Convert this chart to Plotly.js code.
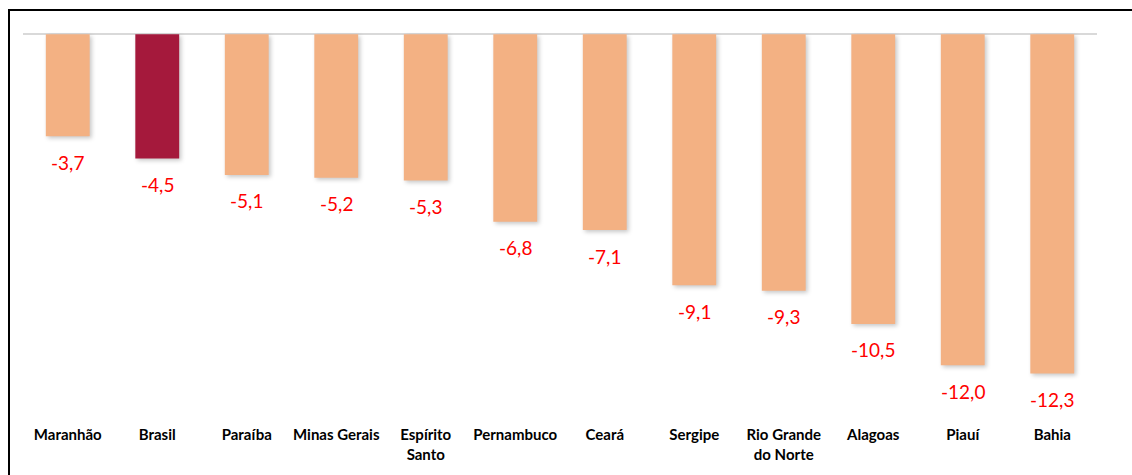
<!DOCTYPE html>
<html>
<head>
<meta charset="utf-8">
<script src="https://cdn.plot.ly/plotly-3.0.1.min.js"></script>
<style>
html,body{margin:0;padding:0;background:#fff;}
#wrap{position:relative;width:1132px;height:475px;}
#chart{width:1132px;height:475px;}
#frame{position:absolute;left:8px;top:9px;width:1130px;height:470px;border-left:2px solid #000;border-top:2px solid #000;pointer-events:none;}
#chart .bars .point path{filter:drop-shadow(2px 2px 2px rgba(0,0,0,0.22));}
</style>
</head>
<body>
<div id="wrap">
<div id="chart"></div>
<div id="frame"></div>
</div>
<script>
const categories = ["Maranhão","Brasil","Paraíba","Minas Gerais","Espírito Santo","Pernambuco","Ceará","Sergipe","Rio Grande do Norte","Alagoas","Piauí","Bahia"];
const tickLabels = ["Maranhão","Brasil","Paraíba","Minas Gerais","Espírito<br>Santo","Pernambuco","Ceará","Sergipe","Rio Grande<br>do Norte","Alagoas","Piauí","Bahia"];
const values = [-3.7,-4.5,-5.1,-5.2,-5.3,-6.8,-7.1,-9.1,-9.3,-10.5,-12.0,-12.3];
const highlight = "Brasil";

const colors = categories.map(c => c === highlight ? "#a5193c" : "#f3b183");

const trace = {
  type: "bar",
  x: categories,
  y: values,
  marker: {color: colors, line: {width: 0}},
  hoverinfo: "skip"
};

const annotations = categories.map((c, i) => ({
  x: c, y: values[i], xref: "x", yref: "y",
  text: values[i].toFixed(1).replace(".", ","),
  showarrow: false, yanchor: "middle", yshift: -26,
  font: {family: "Lato, 'Open Sans', sans-serif", size: 19, color: "#ff0000"}
}));

const layout = {
  width: 1132, height: 475,
  margin: {l: 23, r: 35, t: 26, b: 75},
  paper_bgcolor: "#ffffff", plot_bgcolor: "#ffffff",
  showlegend: false,
  bargap: 0.51,
  xaxis: {
    type: "category",
    tickvals: categories, ticktext: tickLabels,
    showgrid: false, zeroline: false, showline: false, ticks: "",
    ticklabelstandoff: 24,
    tickfont: {family: "Lato, 'Open Sans', sans-serif", size: 15, color: "#000", weight: "bold"}
  },
  yaxis: {
    range: [-13.26, 0.3],
    showgrid: false, showticklabels: false, ticks: "", showline: false,
    zeroline: true, zerolinecolor: "#d9d9d9", zerolinewidth: 2
  },
  annotations: annotations
};

Plotly.newPlot("chart", [trace], layout, {displayModeBar: false, staticPlot: true});
</script>
</body>
</html>
